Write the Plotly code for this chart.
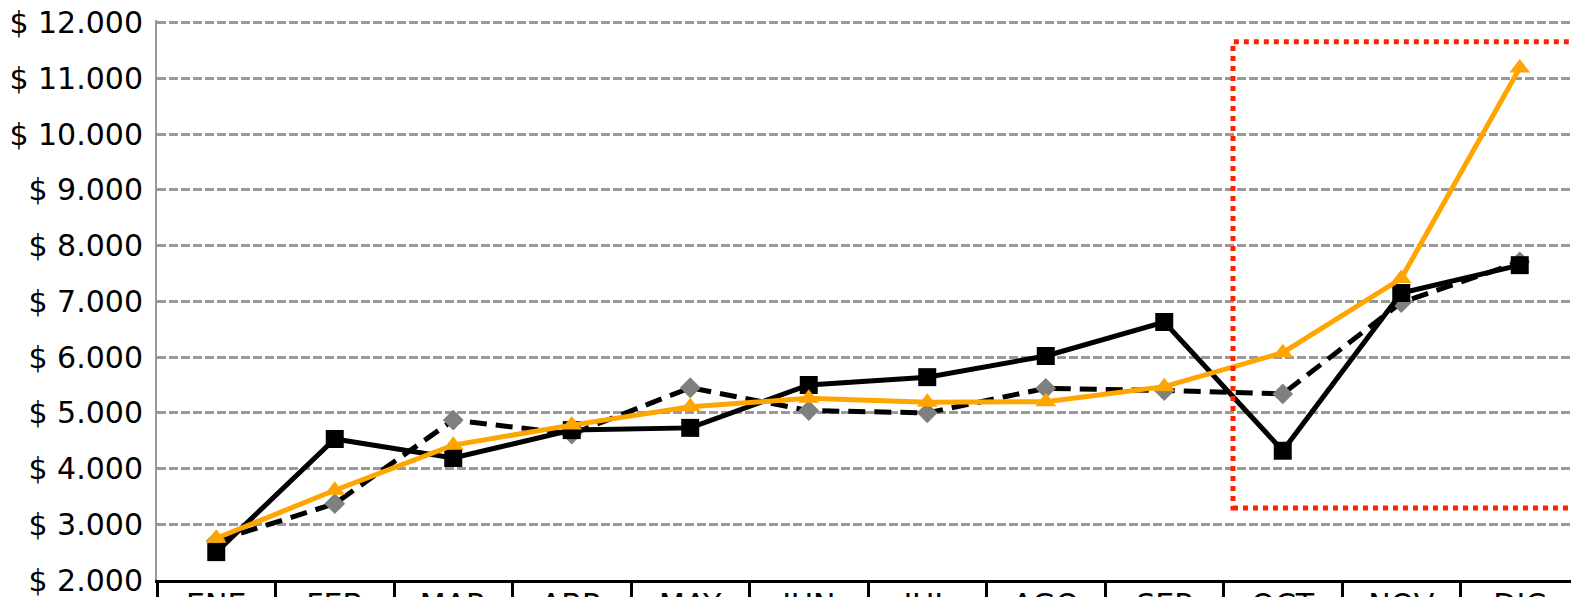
import plotly.graph_objects as go

meses = ["ENE", "FEB", "MAR", "ABR", "MAY", "JUN", "JUL", "AGO", "SEP", "OCT", "NOV", "DIC"]

# monthly values
serie_a = [2500, 4530, 4190, 4690, 4730, 5500, 5640, 6020, 6630, 4320, 7150, 7650]   # black solid, squares
serie_b = [2700, 3370, 4870, 4620, 5450, 5040, 5000, 5440, 5400, 5340, 6980, 7710]   # black dashed, diamonds
serie_c = [2750, 3610, 4420, 4780, 5110, 5260, 5190, 5200, 5470, 6080, 7410, 11190]  # orange, triangles

# highlighted zone (OCT-DIC)
zona_y = [3290, 11660]

fig = go.Figure(
    data = [
        go.Scatter(x=meses, y=serie_b, mode='lines+markers', name='B',
                   line=dict(color='black', width=5, dash='17px,9px'),
                   marker=dict(symbol='diamond', size=16, color='#7f7f7f')),
        go.Scatter(x=meses, y=serie_a, mode='lines+markers', name='A',
                   line=dict(color='black', width=5),
                   marker=dict(symbol='square', size=18, color='black')),
        go.Scatter(x=meses, y=serie_c, mode='lines+markers', name='C',
                   line=dict(color='#FFA500', width=5),
                   marker=dict(symbol='triangle-up', size=18, color='#FFA500')),
    ]
)

# red dotted box around the last quarter
fig.add_shape(type='rect', xref='x', yref='y',
              x0=8.58, x1=11.7, y0=zona_y[0], y1=zona_y[1],
              line=dict(color='#FF2200', width=5, dash='dot'),
              fillcolor='rgba(0,0,0,0)', layer='above')

# page body has an 8px margin, so the figure is a bit smaller than the window
fig.update_layout(
    width=1571, height=589,
    margin=dict(l=149, r=0, t=12, b=17),
    plot_bgcolor='white', paper_bgcolor='white',
    showlegend=False,
    separators=',.',
    font=dict(family='DejaVu Sans', size=30, color='black'),
)

fig.update_xaxes(
    range=[-0.5, 11.5], automargin=False,
    showline=True, linecolor='black', linewidth=3,
    showgrid=False,
    ticks='outside', tickson='boundaries', ticklen=22, tickwidth=3, tickcolor='black',
    ticklabelstandoff=-4, ticklabeloverflow='allow',
)

# a little headroom above 12.000 so its gridline is still drawn
fig.update_yaxes(
    range=[2000, 12050], dtick=1000, automargin=False,
    tickprefix='$ ', tickformat=',.0f',
    showline=True, linecolor='#999999', linewidth=2,
    showgrid=True, gridcolor='#999999', gridwidth=2.5, griddash='9px,3px',
    zeroline=False,
    ticks='', ticklabelstandoff=6, ticklabeloverflow='allow',
)

fig.write_html("out.html")
